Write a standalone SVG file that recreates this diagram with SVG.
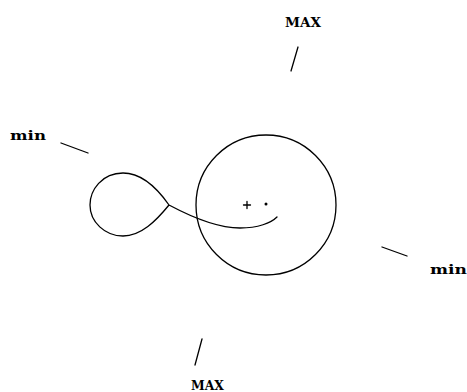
<svg xmlns="http://www.w3.org/2000/svg" width="467" height="392" viewBox="0 0 467 392">
<style>
.l{stroke:#000;stroke-width:1.3;fill:none;stroke-linecap:round}
.t{font-family:"DejaVu Serif","Liberation Serif",serif;font-weight:bold;font-size:13.5px;fill:#000}
</style>
<rect width="467" height="392" fill="#fff"/>
<g id="circle"><circle class="l" cx="266" cy="205" r="70"/></g>
<g id="center"><path class="l" d="M243.5,205H250.5M247,201.5V208.5"/><circle cx="266" cy="204" r="1.5" fill="#000"/></g>
<g id="curve"><path class="l" d="M169,205 C155,185 140,173 123,173 C102,173 90,190 90,205 C90,222 105,236 123,236 C141,236 156,221 169,205 C184,213 214,228 240,228 C258,228 271,223 277,217"/></g>
<g id="labels">
<text class="t" x="285" y="27" textLength="36" lengthAdjust="spacingAndGlyphs">MAX</text>
<text class="t" x="10" y="140" textLength="36" lengthAdjust="spacingAndGlyphs">min</text>
<text class="t" x="430" y="274" textLength="37" lengthAdjust="spacingAndGlyphs">min</text>
<text class="t" x="191" y="390" textLength="33" lengthAdjust="spacingAndGlyphs">MAX</text>
</g>
<g id="connectors">
<path class="l" d="M298,47L291,71"/>
<path class="l" d="M61,143L88,153"/>
<path class="l" d="M382,247L407,256"/>
<path class="l" d="M202,339L195,365"/>
</g>
</svg>
